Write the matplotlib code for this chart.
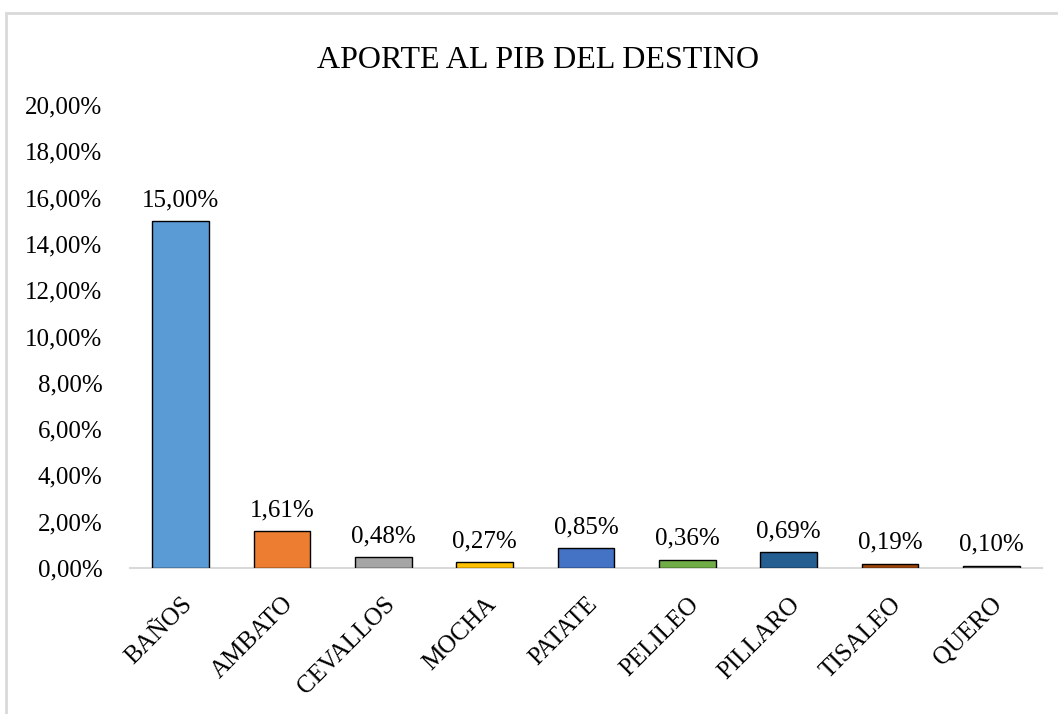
import matplotlib.pyplot as plt
from matplotlib.patches import Rectangle
from matplotlib.ticker import FuncFormatter

# Data
cantones = ["BAÑOS", "AMBATO", "CEVALLOS", "MOCHA", "PATATE",
            "PELILEO", "PILLARO", "TISALEO", "QUERO"]
aporte = [15.00, 1.61, 0.48, 0.27, 0.85, 0.36, 0.69, 0.19, 0.10]
colores = ["#5B9BD5", "#ED7D31", "#A5A5A5", "#FFC000", "#4472C4",
           "#70AD47", "#255E91", "#9E480E", "#636363"]

plt.rcParams['font.family'] = ['Liberation Serif', 'DejaVu Serif']


def pct(v, pos=None):
    return f"{v:.2f}%".replace(".", ",")


fig = plt.figure(figsize=(10.58, 7.14), dpi=100)
ax = fig.add_axes([0.1229, 0.2045, 0.862, 0.6485])

x = range(len(cantones))
bars = ax.bar(x, aporte, 0.56, color=colores, edgecolor="black", linewidth=1.0, zorder=3)

# Value labels above each bar
for b, v in zip(bars, aporte):
    ax.annotate(pct(v), (b.get_x() + b.get_width() / 2, v),
                xytext=(0, 7), textcoords="offset points",
                ha="center", va="bottom", fontsize=18)

ax.set_xlim(-0.5, len(cantones) - 0.5)
ax.set_ylim(0, 20)
ax.set_yticks(range(0, 21, 2))
ax.yaxis.set_major_formatter(FuncFormatter(pct))
ax.set_xticks(list(x))
ax.set_xticklabels(cantones, rotation=45, ha="right", rotation_mode="anchor")

ax.tick_params(axis="y", length=0, pad=20, labelsize=18)
ax.tick_params(axis="x", length=0, pad=18, labelsize=18)

for side in ["top", "right", "left"]:
    ax.spines[side].set_visible(False)
ax.spines["bottom"].set_color("#D9D9D9")
ax.spines["bottom"].set_linewidth(1.5)

fig.text(0.509, 1 - 60 / 714, "APORTE AL PIB DEL DESTINO",
         ha="center", va="center", fontsize=23)

# light chart border, cut off at the right and bottom
fig.patches.append(Rectangle((6 / 1058, -0.1), 1.1, 1.1 - 13 / 714,
                             transform=fig.transFigure, fill=False,
                             edgecolor="#D9D9D9", linewidth=2))

fig.savefig("out.png", dpi=100)
